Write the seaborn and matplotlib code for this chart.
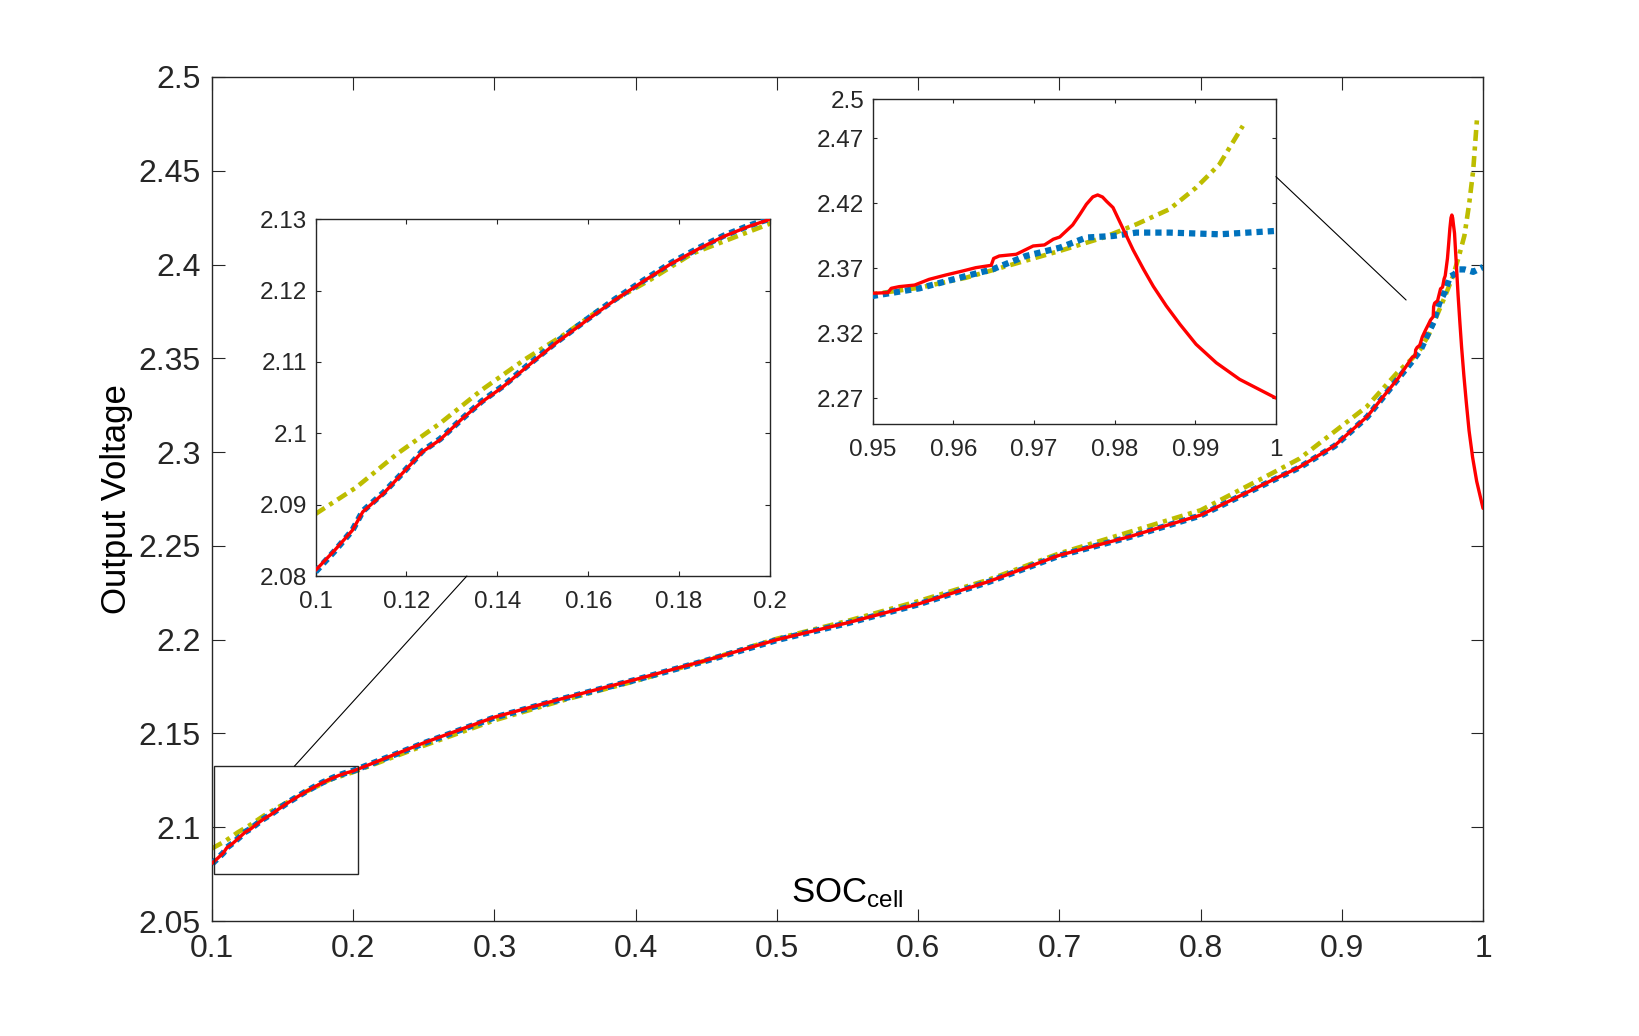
import numpy as np
import pandas as pd
import matplotlib
matplotlib.use("Agg")
import matplotlib.pyplot as plt
import seaborn as sns
from matplotlib.patches import Rectangle, ConnectionPatch
from matplotlib.ticker import FuncFormatter

# ---------------- data ----------------
red_x = [0.100, 0.1042, 0.1081, 0.1104, 0.115, 0.1197, 0.1235, 0.1274, 0.132, 0.1366, 0.1412,
         0.1474, 0.1528, 0.1598, 0.1659, 0.1721, 0.1783, 0.1844, 0.1898, 0.1953, 0.200,
         0.25, 0.30, 0.35, 0.40, 0.45, 0.50, 0.55, 0.60, 0.65, 0.70, 0.75, 0.80, 0.85, 0.87,
         0.895, 0.918, 0.94,
         0.950, 0.9519, 0.9523, 0.9533, 0.9552, 0.957, 0.9591, 0.9612, 0.9628, 0.9647, 0.9650,
         0.9657, 0.9678, 0.9699, 0.9713, 0.9724, 0.9732, 0.9748, 0.9757, 0.9765, 0.9773, 0.9779,
         0.9785, 0.979, 0.9798, 0.981, 0.9823, 0.9836, 0.9848, 0.9864, 0.9881, 0.9901, 0.9926,
         0.9955, 1.0]
red_v = [2.0808, 2.0836, 2.0864, 2.0890, 2.0916, 2.0948, 2.0974, 2.0991, 2.1019, 2.1044, 2.1065,
         2.1098, 2.1126, 2.1159, 2.1187, 2.1213, 2.1238, 2.1259, 2.1276, 2.1290, 2.1300,
         2.145, 2.1587, 2.169, 2.1788, 2.189, 2.200, 2.209, 2.219, 2.231, 2.245, 2.255, 2.2664,
         2.2848, 2.292, 2.3035, 2.319, 2.3395,
         2.3507, 2.3512, 2.3545, 2.3558, 2.357, 2.3614, 2.3648, 2.3679, 2.3704, 2.3722, 2.3775,
         2.3794, 2.3807, 2.3871, 2.3879, 2.3923, 2.394, 2.4033, 2.4115, 2.4192, 2.4249, 2.4264,
         2.4248, 2.4215, 2.4167, 2.401, 2.384, 2.369, 2.356, 2.341, 2.3268, 2.3114, 2.2972,
         2.2844, 2.270]

blue_x = [0.100, 0.1042, 0.1081, 0.1104, 0.115, 0.1197, 0.1235, 0.1274, 0.132, 0.1366, 0.1412,
          0.1474, 0.1528, 0.1598, 0.1659, 0.1721, 0.1783, 0.1844, 0.1898, 0.1953, 0.200,
          0.25, 0.30, 0.35, 0.40, 0.45, 0.50, 0.55, 0.60, 0.65, 0.70, 0.75, 0.80, 0.85, 0.87,
          0.895, 0.918, 0.94,
          0.950, 0.9558, 0.9616, 0.9649, 0.969, 0.9732, 0.9765, 0.9798, 0.9827, 0.9868, 0.993, 1.0]
blue_v = [2.0806, 2.0835, 2.0864, 2.0891, 2.0917, 2.0948, 2.0975, 2.0992, 2.1019, 2.1045, 2.1066,
          2.1099, 2.1127, 2.1160, 2.1188, 2.1214, 2.1239, 2.1260, 2.1277, 2.1291, 2.1301,
          2.1448, 2.1585, 2.1688, 2.1786, 2.1888, 2.1998, 2.2088, 2.2188, 2.2308, 2.2448, 2.2548,
          2.2662, 2.2846, 2.2918, 2.3033, 2.3188, 2.3393,
          2.3486, 2.3545, 2.364, 2.3692, 2.3794, 2.3858, 2.3936, 2.3948, 2.3974, 2.3974, 2.3961, 2.3987]

yel_x = [0.100, 0.1089, 0.1181, 0.1274, 0.1366, 0.1459, 0.1551, 0.1644, 0.1736, 0.1829, 0.200,
         0.25, 0.30, 0.35, 0.40, 0.45, 0.50, 0.55, 0.60, 0.65, 0.70, 0.75, 0.80, 0.85, 0.87,
         0.9176, 0.94, 0.95, 0.9558, 0.9616, 0.9674, 0.9732, 0.9786, 0.9827, 0.9868, 0.9901,
         0.993, 0.9959]
yel_v = [2.0887, 2.0924, 2.0972, 2.1014, 2.1061, 2.1103, 2.1140, 2.1182, 2.1215, 2.1252, 2.1294,
         2.1435, 2.157, 2.168, 2.178, 2.189, 2.2005, 2.210, 2.2205, 2.232, 2.246, 2.2575, 2.269,
         2.2885, 2.2965, 2.3242, 2.343, 2.350, 2.355, 2.3627, 2.373, 2.3833, 2.3936, 2.4038,
         2.4154, 2.432, 2.450, 2.4796]

main_xticks = [0.1, 0.2, 0.3, 0.4, 0.5, 0.6, 0.7, 0.8, 0.9, 1.0]
main_yticks = [2.05, 2.1, 2.15, 2.2, 2.25, 2.3, 2.35, 2.4, 2.45, 2.5]
in1_xticks = [0.1, 0.12, 0.14, 0.16, 0.18, 0.2]
in1_yticks = [2.08, 2.09, 2.1, 2.11, 2.12, 2.13]
in2_xticks = [0.95, 0.96, 0.97, 0.98, 0.99, 1.0]
in2_yticks = [2.27, 2.32, 2.37, 2.42, 2.47, 2.5]

df_red = pd.DataFrame({"SOC": red_x, "V": red_v})
df_blue = pd.DataFrame({"SOC": blue_x, "V": blue_v})
df_yel = pd.DataFrame({"SOC": yel_x, "V": yel_v})

# ---------------- style ----------------
sns.set_theme(style="white")
plt.rcParams["font.family"] = ["Liberation Sans", "DejaVu Sans"]
plt.rcParams["mathtext.default"] = "regular"
AX = "#262626"

BLUE = "#0072BD"
RED = "#FF0000"
YEL = "#BDBD00"

fig = plt.figure(figsize=(16.4, 10.36), dpi=100)
ax = fig.add_axes([0.1293, 0.111, 0.775, 0.8147])
ax1 = fig.add_axes([0.1924, 0.444, 0.2771, 0.3443])
ax2 = fig.add_axes([0.5321, 0.5907, 0.2459, 0.3134])

fmt = FuncFormatter(lambda v, p: "%g" % round(v, 4))


def draw(a):
    sns.lineplot(data=df_yel, x="SOC", y="V", ax=a, color=YEL, lw=3.3, sort=False,
                 estimator=None, linestyle=(0, (2.4, 1.2, 0.9, 1.2)), zorder=2)
    sns.lineplot(data=df_blue, x="SOC", y="V", ax=a, color=BLUE, lw=4.5, sort=False,
                 estimator=None, linestyle=(0, (1, 0.8)), dash_capstyle="butt", zorder=3)
    sns.lineplot(data=df_red, x="SOC", y="V", ax=a, color=RED, lw=2.4, sort=False,
                 estimator=None, zorder=4)


for a, xt, yt, xl, yl, fs, tl in [
        (ax, main_xticks, main_yticks, (0.1, 1.0), (2.05, 2.5), 23, 9.0),
        (ax1, in1_xticks, in1_yticks, (0.1, 0.2), (2.08, 2.13), 17.5, 3.3),
        (ax2, in2_xticks, in2_yticks, (0.95, 1.0), (2.25, 2.5), 17.5, 3.0)]:
    draw(a)
    a.set_xlim(*xl)
    a.set_ylim(*yl)
    a.set_xticks(xt)
    a.set_yticks(yt)
    a.xaxis.set_major_formatter(fmt)
    a.yaxis.set_major_formatter(fmt)
    a.set_xlabel("")
    a.set_ylabel("")
    a.tick_params(direction="in", length=tl, width=0.8, color=AX, labelcolor=AX,
                  labelsize=fs, top=True, right=True, bottom=True, left=True)
    for s in a.spines.values():
        s.set_visible(True)
        s.set_color(AX)
        s.set_linewidth(1.0)
    a.set_facecolor("white")

ax.tick_params(axis="x", pad=9)
ax.tick_params(axis="y", pad=8)
ax1.tick_params(axis="x", pad=11)
ax1.tick_params(axis="y", pad=6)
ax2.tick_params(axis="x", pad=11)
ax2.tick_params(axis="y", pad=6)

ax.set_xlabel(r"SOC$_{cell}$", fontsize=25, color="black")
ax.xaxis.set_label_coords(0.5, 0.013)
ax.xaxis.label.set_va("bottom")
ax.set_ylabel("Output Voltage", fontsize=25, color="black")
ax.yaxis.set_label_coords(-0.062, 0.5)

# zoom rectangle
ax.add_patch(Rectangle((0.1015, 2.0752), 0.1017, 0.0573, fill=False, ec=AX, lw=1.0, zorder=5))

# connector lines
c1 = ConnectionPatch(xyA=(0.1583, 2.1325), coordsA=ax.transData,
                     xyB=(0.333, 0.0), coordsB=ax1.transAxes, color="black", lw=0.8)
fig.add_artist(c1)
c2 = ConnectionPatch(xyA=(0.9455, 2.3811), coordsA=ax.transData,
                     xyB=(1.0, 0.762), coordsB=ax2.transAxes, color="black", lw=0.8)
fig.add_artist(c2)

fig.savefig("out.png", dpi=100, facecolor="white")
